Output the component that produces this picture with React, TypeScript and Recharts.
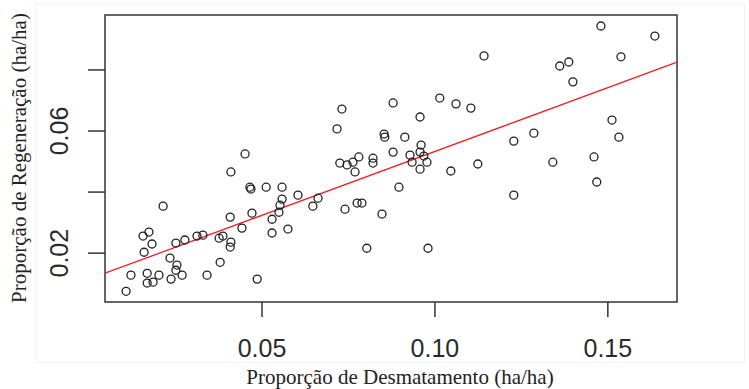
import { ScatterChart, Scatter, XAxis, YAxis, ReferenceLine, ReferenceArea } from 'recharts';

const desmatamento = [
  0.0107, 0.0121, 0.0168, 0.0202, 0.0168, 0.0185, 0.0156, 0.0173, 0.0182, 0.0159,
  0.0214, 0.0234, 0.0254, 0.0251, 0.0269, 0.0237, 0.0251, 0.0277, 0.0312, 0.0329,
  0.0341, 0.0379, 0.0376, 0.0387, 0.0408, 0.041, 0.0408, 0.0442, 0.0471, 0.0486,
  0.0529, 0.0529, 0.0575, 0.0549, 0.0552, 0.0558, 0.0604, 0.0451, 0.041, 0.0465,
  0.0468, 0.0512, 0.0558, 0.0647, 0.0662, 0.074, 0.0775, 0.0789, 0.0847, 0.0803,
  0.098, 0.0896, 0.0725, 0.0746, 0.0763, 0.0769, 0.078, 0.0821, 0.0821, 0.0879,
  0.0928, 0.0934, 0.0957, 0.0968, 0.0977, 0.0957, 0.1046, 0.1124, 0.0731, 0.0717,
  0.0879, 0.1014, 0.1061, 0.1104, 0.0957, 0.0853, 0.0855, 0.0913, 0.096, 0.1142,
  0.1228, 0.1228, 0.1286, 0.1341, 0.146, 0.1468, 0.1512, 0.1532, 0.1361, 0.1387,
  0.1399, 0.148, 0.1538, 0.1636,
];
const regeneracao = [
  0.0075, 0.0128, 0.0134, 0.0128, 0.0102, 0.0105, 0.0256, 0.0269, 0.023, 0.0203,
  0.0354, 0.0184, 0.0161, 0.0144, 0.0128, 0.0115, 0.0233, 0.0243, 0.0256, 0.0259,
  0.0128, 0.017, 0.0249, 0.0256, 0.0318, 0.0236, 0.022, 0.0282, 0.0331, 0.0115,
  0.0266, 0.0311, 0.0279, 0.0334, 0.0357, 0.0377, 0.039, 0.0525, 0.0466, 0.0416,
  0.041, 0.0416, 0.0416, 0.0354, 0.038, 0.0344, 0.0364, 0.0364, 0.0328, 0.0216,
  0.0216, 0.0416, 0.0495, 0.0489, 0.0498, 0.0466, 0.0515, 0.0511, 0.0495, 0.0531,
  0.0521, 0.0498, 0.0531, 0.0518, 0.0498, 0.0475, 0.0469, 0.0492, 0.0672, 0.0607,
  0.0692, 0.0708, 0.0689, 0.0675, 0.0646, 0.059, 0.058, 0.058, 0.0554, 0.0846,
  0.039, 0.0567, 0.0593, 0.0498, 0.0515, 0.0433, 0.0636, 0.058, 0.0813, 0.0826,
  0.0761, 0.0944, 0.0843, 0.0911,
];

const xTicks = [0.05, 0.1, 0.15];
const yTicks = [0.02, 0.04, 0.06, 0.08];
const yLabelled = [0.02, 0.06];
const xDomain = [0.0046, 0.17];
const yDomain = [0.004, 0.098];

// lm(regeneracao ~ desmatamento), estimated from the red line
const fitIntercept = 0.0115;
const fitSlope = 0.418;

const points = desmatamento.map((x, i) => ({ x, y: regeneracao[i] }));
const fitSegment = xDomain.map((x) => ({ x, y: fitIntercept + fitSlope * x }));

const tickFont = "'Liberation Sans', Arial, sans-serif";
const titleFont = "'Liberation Serif', 'Times New Roman', serif";

const OpenCircle = (props: any) => (
  <circle cx={props.cx} cy={props.cy} r={4} fill="none" stroke="#222" strokeWidth={1.3} />
);

const XTick = (props: any) => {
  const { x, y, payload } = props;
  return (
    <text x={x} y={y + 31} textAnchor="middle" dominantBaseline="central"
      fontFamily={tickFont} fontSize={25} fill="#2a2a2a">
      {payload.value.toFixed(2)}
    </text>
  );
};

const YTick = (props: any) => {
  const { x, y, payload } = props;
  if (!yLabelled.some((v) => Math.abs(v - payload.value) < 1e-9)) return <g />;
  const cx = x - 29;
  return (
    <text x={cx} y={y} textAnchor="middle" dominantBaseline="central"
      transform={`rotate(-90 ${cx} ${y})`}
      fontFamily={tickFont} fontSize={25} fill="#2a2a2a">
      {payload.value.toFixed(2)}
    </text>
  );
};

export default function App() {
  return (
    <div style={{ position: 'absolute', left: 0, top: 0, width: 749, height: 389, background: '#fff' }}>
      <div style={{
        position: 'absolute', left: 35, top: 3, width: 710, height: 360,
        border: '1px solid #f2f2f2', boxSizing: 'border-box',
      }} />
      <ScatterChart width={749} height={389} margin={{ top: 15, right: 72, left: 0, bottom: 0 }}
        style={{ position: 'absolute', left: 0, top: 0 }}>
        <XAxis
          type="number"
          dataKey="x"
          domain={xDomain}
          allowDataOverflow
          ticks={xTicks}
          tick={<XTick />}
          tickSize={15}
          tickMargin={0}
          tickLine={{ stroke: '#333', strokeWidth: 1.5 }}
          axisLine={false}
          height={87}
        />
        <YAxis
          type="number"
          dataKey="y"
          domain={yDomain}
          allowDataOverflow
          ticks={yTicks}
          tick={<YTick />}
          tickSize={17}
          tickMargin={0}
          tickLine={{ stroke: '#333', strokeWidth: 1.5 }}
          axisLine={false}
          width={105}
        />
        <ReferenceArea
          x1={xDomain[0]} x2={xDomain[1]} y1={yDomain[0]} y2={yDomain[1]}
          fill="none" fillOpacity={0} stroke="#333" strokeWidth={1.5} ifOverflow="visible"
        />
        <ReferenceLine segment={fitSegment} stroke="#f02020" strokeWidth={1.3} ifOverflow="visible" />
        <Scatter data={points} shape={<OpenCircle />} isAnimationActive={false} />
      </ScatterChart>
      <div style={{
        position: 'absolute', left: 400, top: 377, transform: 'translate(-50%, -50%)',
        fontFamily: titleFont, fontSize: 21, color: '#222', whiteSpace: 'nowrap',
      }}>
        Proporção de Desmatamento (ha/ha)
      </div>
      <div style={{
        position: 'absolute', left: 19, top: 158, transform: 'translate(-50%, -50%) rotate(-90deg)',
        fontFamily: titleFont, fontSize: 21, color: '#222', whiteSpace: 'nowrap',
      }}>
        Proporção de Regeneração (ha/ha)
      </div>
    </div>
  );
}
